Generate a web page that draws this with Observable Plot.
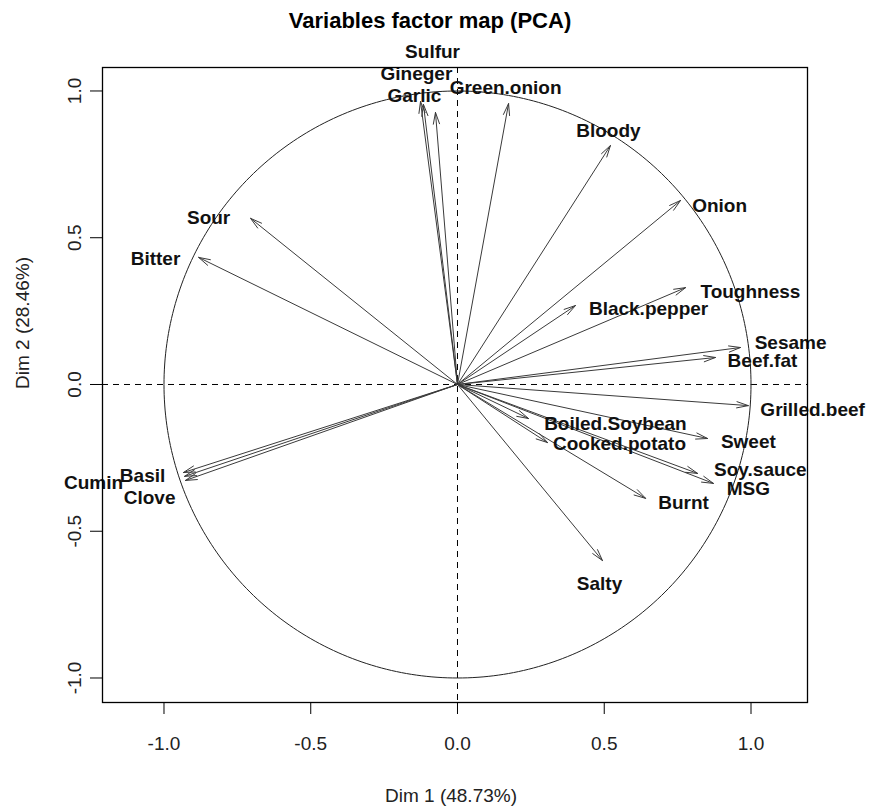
<!DOCTYPE html>
<html>
<head>
<meta charset="utf-8">
<script src="https://cdn.jsdelivr.net/npm/d3@7"></script>
<script src="https://cdn.jsdelivr.net/npm/@observablehq/plot@0.6"></script>
<style>
  html, body { margin: 0; padding: 0; background: #fff; }
  #chart { width: 869px; height: 809px; }
</style>
</head>
<body>
<div id="chart"></div>
<script>
// Sensory attributes and their correlations with the first two principal components
const variables = [
  "Sulfur", "Gineger", "Garlic", "Green.onion", "Bloody", "Onion", "Toughness",
  "Black.pepper", "Sesame", "Beef.fat", "Grilled.beef", "Boiled.Soybean",
  "Cooked.potato", "Sweet", "Soy.sauce", "MSG", "Burnt", "Salty", "Sour",
  "Bitter", "Basil", "Cumin", "Clove"
];
const dim1 = [
  -0.075, -0.126, -0.116, 0.174, 0.521, 0.760, 0.777,
  0.402, 0.964, 0.879, 0.991, 0.242,
  0.307, 0.852, 0.818, 0.872, 0.641, 0.494, -0.705,
  -0.882, -0.934, -0.930, -0.927
];
const dim2 = [
  0.927, 0.964, 0.954, 0.957, 0.814, 0.627, 0.330,
  0.269, 0.126, 0.092, -0.072, -0.116,
  -0.198, -0.184, -0.303, -0.337, -0.388, -0.600, 0.566,
  0.433, -0.300, -0.313, -0.327
];
// Label anchor points (placed to avoid overlaps)
const labelDim1 = [
  -0.085, -0.140, -0.147, 0.164, 0.514, 0.893, 0.998,
  0.651, 1.135, 1.039, 1.210, 0.538,
  0.552, 0.991, 1.032, 0.991, 0.770, 0.484, -0.848,
  -1.029, -1.073, -1.240, -1.049
];
const labelDim2 = [
  1.132, 1.058, 0.983, 1.012, 0.865, 0.610, 0.317,
  0.259, 0.143, 0.082, -0.085, -0.133,
  -0.201, -0.194, -0.290, -0.356, -0.405, -0.678, 0.566,
  0.429, -0.310, -0.337, -0.388
];
const axisTicks = [-1, -0.5, 0, 0.5, 1];

const vars = variables.map((name, i) => ({
  name, x: dim1[i], y: dim2[i], lx: labelDim1[i], ly: labelDim2[i]
}));

// Unit circle of correlations
const circle = d3.range(0, 361).map(a => ({
  x: Math.cos(a * Math.PI / 180), y: Math.sin(a * Math.PI / 180)
}));

const fmt = d => d.toFixed(1);

const chart = Plot.plot({
  width: 869,
  height: 809,
  marginLeft: 102,
  marginRight: 62,
  marginTop: 67,
  marginBottom: 107,
  style: { fontFamily: "'Liberation Sans', Arial, sans-serif", background: "#fff", color: "#000" },
  x: { domain: [-1.2095, 1.1925], label: null },
  y: { domain: [-1.0835, 1.080], label: null },
  marks: [
    Plot.ruleX([0], { stroke: "#000", strokeDasharray: "6,5", strokeWidth: 1 }),
    Plot.ruleY([0], { stroke: "#000", strokeDasharray: "6,5", strokeWidth: 1 }),
    Plot.line(circle, { x: "x", y: "y", stroke: "#222", strokeWidth: 1 }),
    Plot.arrow(vars, {
      x1: () => 0, y1: () => 0, x2: "x", y2: "y",
      stroke: "#3a3a3a", strokeWidth: 1, headAngle: 30, headLength: 18
    }),
    Plot.text(vars, {
      x: "lx", y: "ly", text: "name",
      fontSize: 19, fontWeight: "bold", fill: "#111"
    }),
    Plot.frame({ stroke: "#000", strokeWidth: 1.3 }),
    Plot.axisX({
      ticks: axisTicks, tickFormat: fmt, tickSize: 12, tickPadding: 22,
      fontSize: 19, label: null, fill: "#222"
    }),
    Plot.axisY({
      ticks: axisTicks, tickFormat: fmt, tickSize: 12, tickPadding: 10,
      tickRotate: -90, fontSize: 19, label: null, fill: "#222"
    }),
    // Title
    Plot.text(["Variables factor map (PCA)"], {
      frameAnchor: "top", lineAnchor: "middle", dy: -47, dx: -25,
      fontSize: 22, fontWeight: "bold", fill: "#000"
    }),
    // Axis titles
    Plot.text(["Dim 1 (48.73%)"], {
      frameAnchor: "bottom", lineAnchor: "middle", dy: 93, dx: -4,
      fontSize: 19, fill: "#222"
    }),
    Plot.text(["Dim 2 (28.46%)"], {
      frameAnchor: "left", lineAnchor: "middle", rotate: -90, dx: -80, dy: 4,
      fontSize: 19, fill: "#222"
    })
  ]
});

document.getElementById("chart").appendChild(chart);
</script>
</body>
</html>
